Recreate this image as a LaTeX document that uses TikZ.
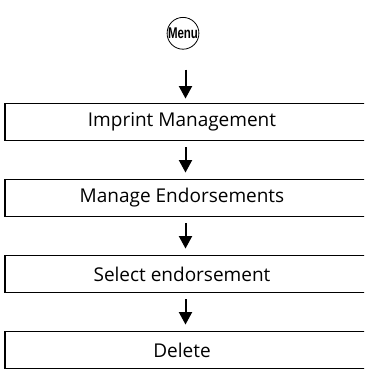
\documentclass[tikz,border=0pt]{standalone}
\usepackage{fontspec}
\setmainfont{Open Sans}
\newfontfamily\menufont[FakeStretch=0.74]{Liberation Sans Bold}
\usetikzlibrary{arrows.meta}
\begin{document}
\begin{tikzpicture}[x=1pt,y=1pt,
  stepbox/.style={draw,line width=1.4pt,minimum width=361pt,minimum height=37.5pt,inner sep=0pt},
  boxtext/.style={font=\fontsize{19}{22}\selectfont},
  arr/.style={line width=2pt,-{Triangle[width=13pt,length=12.5pt]}},
  menu/.style={draw,circle,line width=0.8pt,minimum size=31pt,inner sep=0pt,font=\menufont\fontsize{15.5}{17}\selectfont}]
\useasboundingbox (0,0) rectangle (364,-371);
\clip (0,0) rectangle (364,-371);
\node[menu] (m) at (183,-33.3) {Menu};
\node[stepbox,label={[boxtext,xshift=-3.5pt]center:Imprint Management}] (b1) at (185.5,-122) {};
\node[stepbox,label={[boxtext,xshift=-3.5pt]center:Manage Endorsements}] (b2) at (185.5,-198) {};
\node[stepbox,label={[boxtext,xshift=-3.5pt]center:Select endorsement}] (b3) at (185.5,-274) {};
\node[stepbox,label={[boxtext,xshift=-3.5pt]center:Delete}] (b4) at (185.5,-350) {};
\draw[arr] ([yshift=-20pt]m.south -| b1.north) -- ([yshift=4pt]b1.north);
\draw[arr] ([yshift=-6pt]b1.south) -- ([yshift=6pt]b2.north);
\draw[arr] ([yshift=-6pt]b2.south) -- ([yshift=6pt]b3.north);
\draw[arr] ([yshift=-6pt]b3.south) -- ([yshift=6pt]b4.north);
\end{tikzpicture}
\end{document}
